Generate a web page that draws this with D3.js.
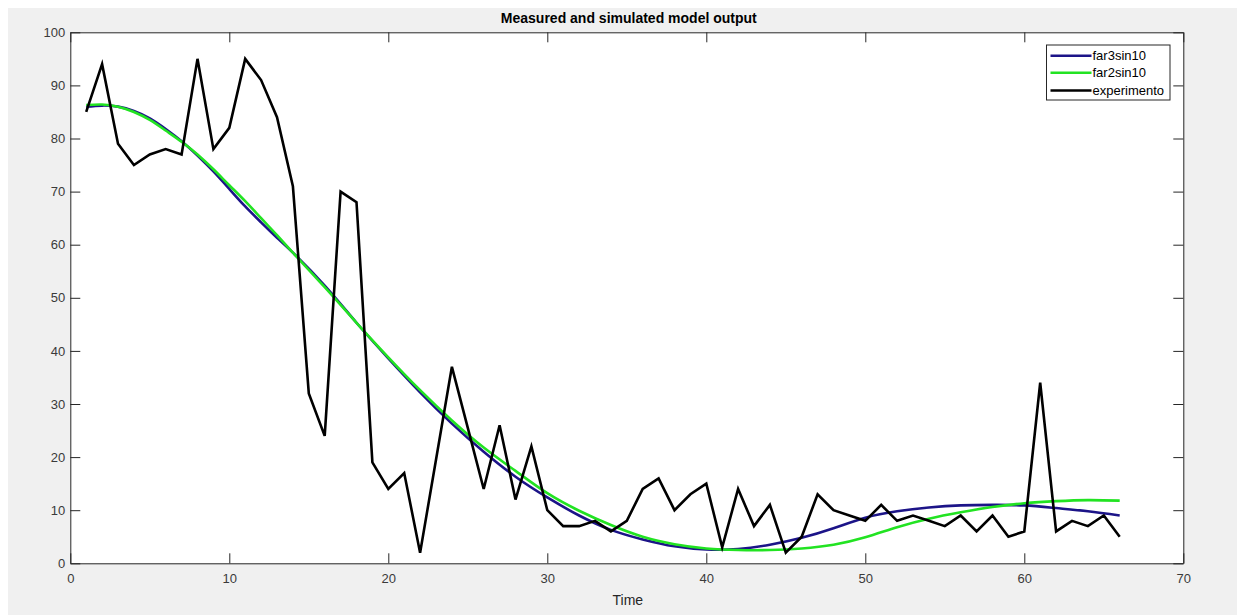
<!DOCTYPE html>
<html>
<head>
<meta charset="utf-8">
<script src="https://cdn.jsdelivr.net/npm/d3@7/dist/d3.min.js"></script>
<style>
  html, body { margin: 0; padding: 0; background: #ffffff; }
  svg { display: block; }
  text { font-family: Arial, "Liberation Sans", Helvetica, sans-serif; }
</style>
</head>
<body>
<svg id="chart" width="1237" height="615"></svg>
<script>
// ---------------- DATA ----------------
const chartTitle = "Measured and simulated model output";
const xLabel = "Time";
const xTicks = [0, 10, 20, 30, 40, 50, 60, 70];
const yTicks = [0, 10, 20, 30, 40, 50, 60, 70, 80, 90, 100];
const seriesNames = ["far3sin10", "far2sin10", "experimento"];

// experiment (measured), t = 1..66
const expTime = d3.range(1, 67);
const expValues = [85, 94, 79, 75, 77, 78, 77, 95, 78, 82,
                   95, 91, 84, 71, 32, 24, 70, 68, 19, 14,
                   17, 2, 19.5, 37, 25.5, 14, 26, 12, 22, 10,
                   7, 7, 8, 6, 8, 14, 16, 10, 13, 15,
                   3, 14, 7, 11, 2, 5, 13, 10, 9, 8,
                   11, 8, 9, 8, 7, 9, 6, 9, 5, 6,
                   34, 6, 8, 7, 9, 5];

// simulated models, read at these times
const modelTime = [1, 2, 3, 4, 5, 6, 7, 8, 9, 10, 11, 12, 13, 14, 16, 18, 20, 22, 24, 26,
                   28, 30, 32, 34, 36, 38, 40, 42, 44, 46, 48, 50, 52, 54, 56, 58, 60, 62, 64, 66];
const far3Values = [86.0, 86.2, 86.0, 85.2, 83.8, 81.8, 79.5, 76.8, 73.8, 70.5,
                    67.2, 64.2, 61.3, 58.5, 52.3, 45.3, 38.6, 32.2, 26.3, 21.0,
                    16.3, 12.4, 9.0, 6.3, 4.5, 3.2, 2.6, 2.7, 3.5, 4.8,
                    6.6, 8.6, 9.8, 10.5, 10.9, 11.0, 10.9, 10.4, 9.8, 9.0];
const far2Values = [86.3, 86.4, 86.0, 85.0, 83.5, 81.5, 79.4, 77.0, 74.2, 71.2,
                    68.2, 65.0, 61.8, 58.5, 52.0, 45.3, 38.8, 32.6, 26.9, 21.8,
                    17.4, 13.2, 9.9, 7.2, 5.0, 3.6, 2.8, 2.5, 2.5, 2.8,
                    3.5, 4.9, 6.8, 8.4, 9.6, 10.6, 11.3, 11.7, 11.9, 11.8];

// ---------------- LAYOUT ----------------
const W = 1237, H = 615;
const plot = { left: 70.3, right: 1183.3, top: 32.3, bottom: 563.3 };
const colors = { far3: "#1c1488", far2: "#22e322", exp: "#000000" };

const svg = d3.select("#chart");

// figure background (white margin top/left, grey figure)
svg.append("rect").attr("x", 0).attr("y", 0).attr("width", W).attr("height", H).attr("fill", "#ffffff");
svg.append("rect").attr("x", 8).attr("y", 8).attr("width", W - 8).attr("height", H - 8).attr("fill", "#f0f0f0");

const x = d3.scaleLinear().domain([0, 70]).range([plot.left, plot.right]);
const y = d3.scaleLinear().domain([0, 100]).range([plot.bottom, plot.top]);

// axes area
svg.append("rect")
  .attr("x", plot.left).attr("y", plot.top)
  .attr("width", plot.right - plot.left).attr("height", plot.bottom - plot.top)
  .attr("fill", "#ffffff");

const axisColor = "#262626";
const tickLen = 10;

const clip = svg.append("defs").append("clipPath").attr("id", "clip")
  .append("rect").attr("x", plot.left).attr("y", plot.top)
  .attr("width", plot.right - plot.left).attr("height", plot.bottom - plot.top);

// lines
const lineModel = (vals) => d3.line()
  .x((d, i) => x(modelTime[i]))
  .y(d => y(d))
  .curve(d3.curveNatural)(vals);

const g = svg.append("g").attr("clip-path", "url(#clip)");
g.append("path").attr("d", lineModel(far3Values))
  .attr("fill", "none").attr("stroke", colors.far3).attr("stroke-width", 2.6);
g.append("path").attr("d", lineModel(far2Values))
  .attr("fill", "none").attr("stroke", colors.far2).attr("stroke-width", 2.6);
g.append("path")
  .attr("d", d3.line().x((d, i) => x(expTime[i])).y(d => y(d))(expValues))
  .attr("fill", "none").attr("stroke", colors.exp).attr("stroke-width", 2.6)
  .attr("stroke-linejoin", "miter");

// axes with inward ticks (MATLAB style, box on)
const fmt = d3.format("d");
const bottomAxis = d3.axisBottom(x).tickValues(xTicks).tickFormat(fmt).tickSizeInner(-tickLen).tickSizeOuter(0).tickPadding(10);
const topAxis = d3.axisTop(x).tickValues(xTicks).tickFormat("").tickSizeInner(-tickLen).tickSizeOuter(0);
const leftAxis = d3.axisLeft(y).tickValues(yTicks).tickFormat(fmt).tickSizeInner(-tickLen).tickSizeOuter(0).tickPadding(5);
const rightAxis = d3.axisRight(y).tickValues(yTicks).tickFormat("").tickSizeInner(-tickLen).tickSizeOuter(0);

function style(sel) {
  sel.select(".domain").attr("stroke", axisColor).attr("stroke-width", 1);
  sel.selectAll(".tick line").attr("stroke", axisColor).attr("stroke-width", 1);
  sel.selectAll(".tick text").attr("fill", "#3a3a3a").attr("font-size", 13);
}
svg.append("g").attr("transform", `translate(0,${plot.bottom})`).call(bottomAxis).call(style);
svg.append("g").attr("transform", `translate(0,${plot.top})`).call(topAxis).call(style);
svg.append("g").attr("transform", `translate(${plot.left},0)`).call(leftAxis).call(style);
svg.append("g").attr("transform", `translate(${plot.right},0)`).call(rightAxis).call(style);

// title
svg.append("text")
  .attr("x", (plot.left + plot.right) / 2 + 2).attr("y", 23)
  .attr("text-anchor", "middle").attr("font-size", 14).attr("font-weight", "bold")
  .attr("fill", "#000").text(chartTitle);

// x label
svg.append("text")
  .attr("x", (plot.left + plot.right) / 2 + 1).attr("y", 605)
  .attr("text-anchor", "middle").attr("font-size", 14)
  .attr("fill", "#262626").text(xLabel);

// legend
const legend = svg.append("g");
const lg = { x: 1046.5, y: 45, w: 123.5, h: 55 };
legend.append("rect").attr("x", lg.x).attr("y", lg.y).attr("width", lg.w).attr("height", lg.h)
  .attr("fill", "#ffffff").attr("stroke", "#262626").attr("stroke-width", 1);
const legendColors = [colors.far3, colors.far2, colors.exp];
const rowY = [55.7, 72.8, 90.5];
seriesNames.forEach((name, i) => {
  legend.append("line")
    .attr("x1", lg.x + 4).attr("x2", lg.x + 45)
    .attr("y1", rowY[i]).attr("y2", rowY[i])
    .attr("stroke", legendColors[i]).attr("stroke-width", 2.6);
  legend.append("text")
    .attr("x", lg.x + 46).attr("y", rowY[i] + 4.5)
    .attr("font-size", 13).attr("fill", "#000").text(name);
});
</script>
</body>
</html>
